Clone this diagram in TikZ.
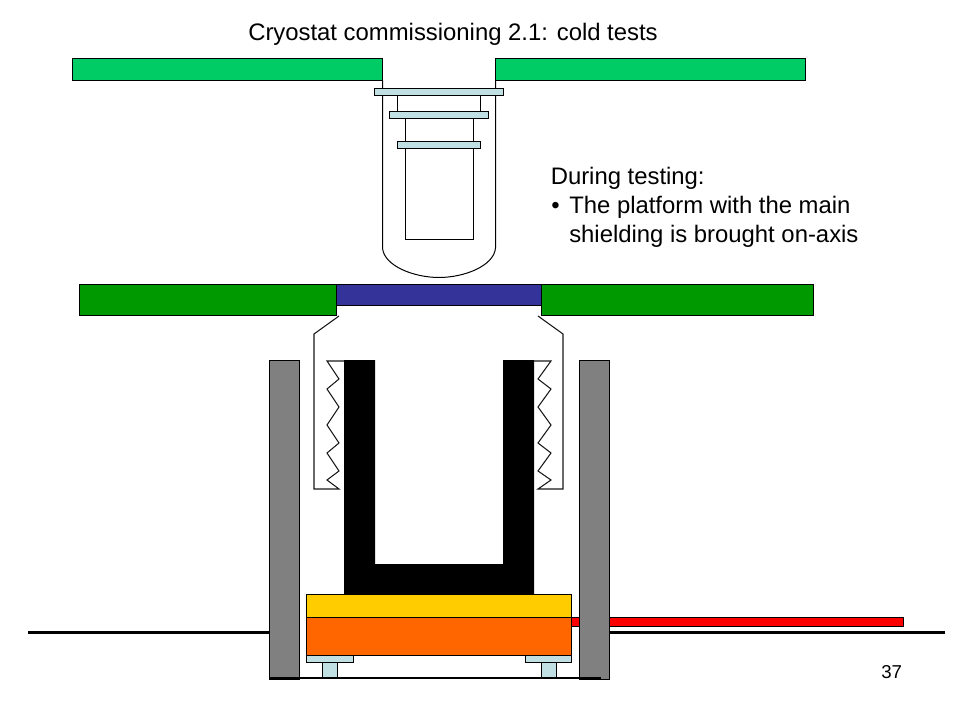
\documentclass[tikz,border=0pt]{standalone}
\usepackage{fontspec}
\setmainfont{Liberation Sans}
\usepackage{xcolor}
\definecolor{cgreen}{RGB}{0,204,102}
\definecolor{cdarkgreen}{RGB}{0,153,0}
\definecolor{cblue}{RGB}{51,51,153}
\definecolor{cflange}{RGB}{192,224,228}
\definecolor{cgrey}{RGB}{128,128,128}
\definecolor{cyellow}{RGB}{255,204,0}
\definecolor{corange}{RGB}{255,102,0}
\definecolor{cred}{RGB}{255,0,0}
\tikzstyle{outline} = [draw=black, line width=0.75pt]
\tikzstyle{thinline} = [draw=black!90, line width=0.8pt, line join=miter]
\tikzstyle{floorline} = [draw=black, line width=2.25pt]
\tikzstyle{label} = [anchor=base west, inner sep=0pt, font=\fontsize{17.9}{22}\selectfont]

\begin{document}
\begin{tikzpicture}[x=0.75pt,y=-0.75pt]
\useasboundingbox (0,0) rectangle (960,720);
\fill[white] (0,0) rectangle (960,720);

% floor and rail
\draw[floorline] (28,632) -- (269,632);
\draw[floorline] (609,632) -- (945,632);
\filldraw[outline, fill=cred] (560,617) rectangle (903,626);

% shielding walls
\filldraw[outline, fill=cgrey] (269.5,360) rectangle (299.5,679);
\filldraw[outline, fill=cgrey] (579,360) rectangle (609.5,679);

% inner vessel
\fill[black] (344,360) -- (375,360) -- (375,564) -- (503,564) -- (503,360) -- (534,360) -- (534,596) -- (344,596) -- cycle;

% table
\filldraw[outline, fill=cyellow] (306,594.5) rectangle (571,617);
\filldraw[outline, fill=corange] (306,617) rectangle (571,655);
\filldraw[outline, fill=cflange] (306,655) rectangle (353,662);
\filldraw[outline, fill=cflange] (525,655) rectangle (571,662);
\filldraw[outline, fill=cflange] (322,662) rectangle (337,678);
\filldraw[outline, fill=cflange] (541,662) rectangle (556,678);
\draw[floorline, line width=1.9pt] (270,678) -- (601,678);

% bellows
\draw[thinline] (339,316) -- (314,334) -- (314,489) -- (339,489) -- (327,480) -- (339,471) -- (327,453) -- (339,443)
  -- (327,425) -- (339,407) -- (327,389) -- (339,379) -- (327,361) -- (344,361);
\draw[thinline] (538,316) -- (563,334) -- (563,489) -- (538,489) -- (551,480) -- (538,471) -- (551,453) -- (538,443)
  -- (551,425) -- (538,407) -- (551,389) -- (538,379) -- (551,361) -- (534,361);

% platform
\filldraw[outline, fill=cdarkgreen] (79,284.5) rectangle (336.5,315);
\filldraw[outline, fill=cdarkgreen] (541,284.5) rectangle (813.5,315);
\filldraw[outline, fill=cblue] (336.5,284.5) rectangle (541,306);

% upper deck
\filldraw[outline, fill=cgreen] (72.5,58.5) rectangle (382.5,80.5);
\filldraw[outline, fill=cgreen] (495.5,58.5) rectangle (805.5,80.5);

% cryostat
\draw[outline] (382.5,80.5) -- (382.5,248) .. controls (384,266) and (414,277.5) .. (439,277.5)
  .. controls (464,277.5) and (494,266) .. (495.5,248) -- (495.5,80.5);
\draw[outline] (397.5,95) -- (397.5,111);
\draw[outline] (480.5,95) -- (480.5,111);
\draw[outline] (405.5,118) -- (405.5,239.5) -- (473.5,239.5) -- (473.5,118);
\filldraw[outline, fill=cflange] (374.5,88.5) rectangle (503.5,95.5);
\filldraw[outline, fill=cflange] (389.5,111.5) rectangle (488.5,118.5);
\filldraw[outline, fill=cflange] (397.5,141.5) rectangle (480.5,148.5);

% texts
\node[label] (title) at (248,41) {Cryostat commissioning 2.1: cold tests};
\node[label] (during) at (550.5,185) {During testing:};
\node[label] (bullet) at (551,214) {•};
\node[label] (line1) at (569,214) {The platform with the main};
\node[label] (line2) at (569,243) {shielding is brought on-axis};
\node[label, font=\fontsize{14}{16}\selectfont] (pagenum) at (881,678) {37};
\end{tikzpicture}
\end{document}
